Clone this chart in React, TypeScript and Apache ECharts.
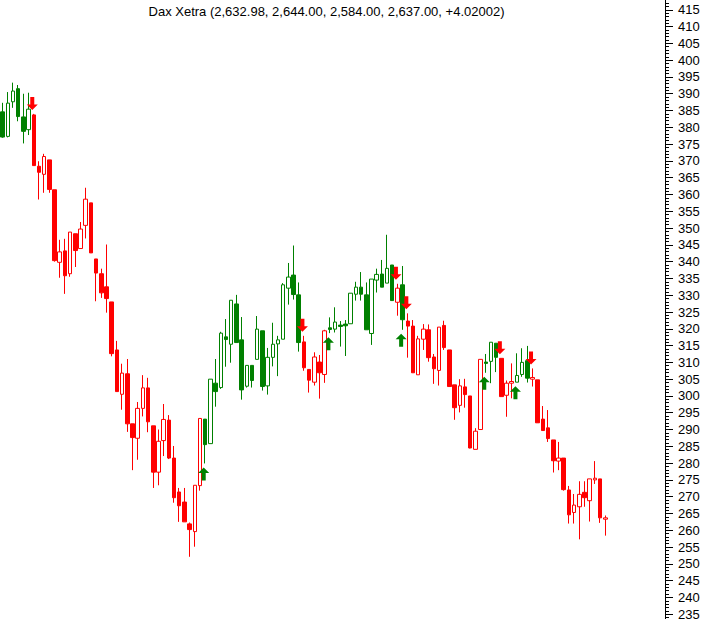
import React, { useEffect, useRef } from "react";
import * as echarts from "echarts";

const TITLE = "Dax Xetra (2,632.98, 2,644.00, 2,584.00, 2,637.00, +4.02002)";

const OPEN = [
  3846, 3773, 3876, 3915, 3831, 3793, 3837, 3684, 3660, 3703,
  3614, 3398, 3432, 3364, 3483, 3439, 3508, 3575, 3408, 3364,
  3325, 3280, 3137, 3005, 3066, 2917, 2874, 2963, 3024, 2911,
  2773, 2867, 2928, 2815, 2714, 2684, 2619, 2596, 2733, 2931,
  2858, 3038, 3025, 3176, 3154, 3274, 3167, 3029, 3091, 3109,
  3194, 3030, 3115, 3155, 3169, 3321, 3360, 3301, 3161, 3079,
  3041, 3101, 3064, 3203, 3199, 3211, 3214, 3215, 3303, 3324,
  3301, 3186, 3345, 3363, 3336, 3390, 3279, 3331, 3223, 3208,
  3063, 3169, 3197, 3116, 3076, 3210, 3137, 3033, 2972, 3027,
  3000, 2841, 2900, 3101, 3103, 3157, 3112, 3002, 3038, 3041,
  3064, 3105, 3050, 3048, 2931, 2905, 2869, 2806, 2815, 2720,
  2653, 2670, 2713, 2688, 2750, 2753, 2632.98,
];
const CLOSE = [
  3771, 3872, 3908, 3832, 3788, 3854, 3686, 3666, 3713, 3615,
  3403, 3429, 3358, 3488, 3433, 3497, 3586, 3426, 3366, 3307,
  3290, 3126, 3013, 3068, 2917, 2876, 2963, 3024, 2923, 2773,
  2865, 2930, 2815, 2697, 2673, 2625, 2602, 2734, 2933, 2855,
  3050, 3013, 3187, 3168, 3285, 3159, 3018, 3091, 3046, 3199,
  3028, 3115, 3154, 3167, 3331, 3354, 3302, 3159, 3084, 3047,
  3116, 3069, 3194, 3198, 3220, 3207, 3209, 3306, 3324, 3303,
  3197, 3348, 3362, 3324, 3380, 3284, 3321, 3227, 3208, 3069,
  3170, 3199, 3114, 3081, 3205, 3144, 3028, 2965, 3030, 3004,
  2845, 2895, 3109, 3097, 3160, 3115, 2998, 3038, 3043, 3061,
  3100, 3053, 3055, 2920, 2897, 2873, 2807, 2815, 2721, 2646,
  2675, 2707, 2697, 2753, 2755, 2637, 2637,
];
const LOW = [
  3769, 3770, 3858, 3818, 3752, 3777, 3686, 3585, 3605, 3605,
  3400, 3352, 3304, 3355, 3384, 3439, 3469, 3426, 3282, 3292,
  3248, 3118, 3013, 2959, 2893, 2779, 2810, 2939, 2892, 2726,
  2734, 2821, 2812, 2682, 2625, 2625, 2521, 2551, 2718, 2799,
  2858, 2968, 3021, 3087, 3099, 3159, 2989, 3025, 3025, 3109,
  3016, 3004, 3088, 3059, 3169, 3272, 3287, 3132, 3075, 3010,
  3031, 2992, 3039, 3187, 3189, 3147, 3119, 3215, 3284, 3284,
  3197, 3152, 3308, 3324, 3336, 3284, 3239, 3197, 3114, 3069,
  3063, 3137, 3102, 3036, 3031, 3137, 3028, 2929, 2951, 2965,
  2844, 2841, 2900, 3069, 3038, 3071, 2998, 2938, 2993, 3041,
  3057, 3040, 3028, 2920, 2897, 2863, 2772, 2779, 2718, 2620,
  2620, 2573, 2670, 2626, 2738, 2622, 2584,
];
const HIGH = [
  3873, 3905, 3933, 3926, 3900, 3903, 3840, 3699, 3721, 3703,
  3614, 3465, 3468, 3488, 3483, 3518, 3620, 3575, 3408, 3379,
  3451, 3280, 3164, 3096, 3110, 2917, 2982, 3062, 3054, 2911,
  2900, 2976, 2943, 2851, 2726, 2726, 2623, 2734, 2933, 2931,
  3050, 3110, 3191, 3229, 3285, 3301, 3235, 3091, 3091, 3238,
  3194, 3143, 3218, 3179, 3336, 3396, 3448, 3338, 3179, 3079,
  3130, 3122, 3197, 3234, 3264, 3223, 3226, 3306, 3340, 3369,
  3338, 3348, 3379, 3405, 3480, 3390, 3334, 3387, 3246, 3226,
  3179, 3214, 3213, 3125, 3205, 3224, 3137, 3033, 3050, 3051,
  3000, 2904, 3109, 3125, 3160, 3157, 3112, 3046, 3097, 3127,
  3142, 3149, 3082, 3048, 2970, 2958, 2869, 2863, 2815, 2732,
  2708, 2746, 2746, 2753, 2806, 2753, 2644,
];

// trend-change signals (candle index)
const SELL_AT = [6, 58, 76, 78, 96, 102];
const BUY_AT = [39, 63, 77, 93, 99];

const SLOT_COUNT = 128;
const GREEN = "#008000";
const RED = "#ff0000";

const DOWN_ARROW = "path://M3.5,0 L7.5,0 L7.5,7.5 L11,7.5 L5.5,13 L0,7.5 L3.5,7.5 Z";
const UP_ARROW = "path://M3.5,13 L7.5,13 L7.5,5.5 L11,5.5 L5.5,0 L0,5.5 L3.5,5.5 Z";

export default function App() {
  const ref = useRef<HTMLDivElement>(null);

  useEffect(() => {
    if (!ref.current) return;
    const chart = echarts.init(ref.current, null, { renderer: "svg" });
    const slots = Array.from({ length: SLOT_COUNT }, (_, i) => String(i));

    let up = true;
    const candles = OPEN.map((o, i) => {
      if (SELL_AT.includes(i)) up = false;
      if (BUY_AT.includes(i)) up = true;
      const c = up ? GREEN : RED;
      const fill = CLOSE[i] > o ? "#ffffff" : c;
      return {
        value: [o, CLOSE[i], LOW[i], HIGH[i]],
        itemStyle: {
          color: fill,
          color0: fill,
          borderColor: c,
          borderColor0: c,
          borderColorDoji: c,
        },
      };
    });

    chart.setOption({
      animation: false,
      backgroundColor: "#ffffff",
      grid: { left: 0, right: 38, top: 0, bottom: 0, containLabel: false },
      xAxis: {
        type: "category",
        data: slots,
        boundaryGap: true,
        show: false,
      },
      yAxis: {
        type: "value",
        position: "right",
        min: 2300,
        max: 4200,
        interval: 50,
        scale: true,
        axisLine: { show: true, lineStyle: { color: "#000", width: 1 } },
        axisTick: { show: true, inside: false, length: 8, lineStyle: { color: "#000" } },
        minorTick: { show: true, splitNumber: 5, length: 4, lineStyle: { color: "#000" } },
        splitLine: { show: false },
        axisLabel: {
          show: true,
          margin: 13,
          color: "#000",
          fontSize: 13,
          fontFamily: "'Liberation Sans', Arial, sans-serif",
          showMinLabel: false,
          showMaxLabel: false,
          formatter: (v: number) => String(Math.round(v / 10)),
        },
      },
      graphic: [
        {
          type: "text",
          x: 326.5,
          y: 18.5,
          style: {
            text: TITLE,
            fill: "#000",
            font: "13px 'Liberation Sans', Arial, sans-serif",
            textAlign: "center",
            textVerticalAlign: "middle",
          },
        },
      ],
      series: [
        {
          type: "candlestick",
          data: candles,
          barWidth: 4,
          itemStyle: { borderWidth: 1 },
          emphasis: { disabled: true },
          silent: true,
        },
        {
          type: "scatter",
          data: SELL_AT.map((i) => [i, HIGH[i]]),
          symbol: DOWN_ARROW,
          symbolSize: [11, 13],
          symbolOffset: [-1.5, -10.5],
          itemStyle: { color: RED, opacity: 1 },
          silent: true,
          z: 5,
        },
        {
          type: "scatter",
          data: BUY_AT.map((i) => [i, LOW[i]]),
          symbol: UP_ARROW,
          symbolSize: [11, 13],
          symbolOffset: [-1.5, 10.5],
          itemStyle: { color: GREEN, opacity: 1 },
          silent: true,
          z: 5,
        },
      ],
    });

    return () => chart.dispose();
  }, []);

  return (
    <div
      ref={ref}
      style={{ position: "fixed", left: 0, top: -7, width: 703, height: 638 }}
    />
  );
}
